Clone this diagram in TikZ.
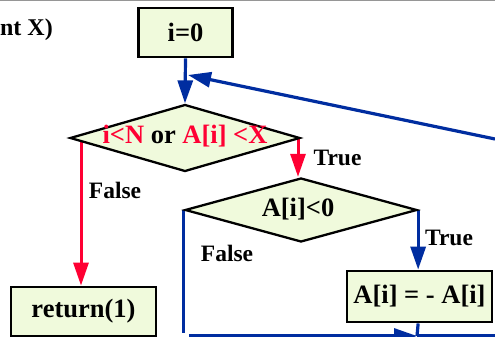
\documentclass[tikz,border=0pt]{standalone}
\usepackage{fontspec}
\setmainfont{Liberation Serif}
\usetikzlibrary{shapes.geometric,arrows.meta,backgrounds,calc}
\definecolor{boxfill}{RGB}{240,250,220}
\definecolor{fred}{RGB}{255,0,51}
\definecolor{fblue}{RGB}{0,45,160}
\definecolor{topgray}{RGB}{150,150,150}
\begin{document}
\begin{tikzpicture}[x=1pt,y=-1pt,
  box/.style={draw=black,line width=2.8pt,fill=boxfill,inner sep=0pt,font=\fontsize{26.5}{30}\selectfont\bfseries},
  dia/.style={diamond,draw=black,line width=2.3pt,fill=boxfill,inner sep=0pt},
  diatext/.style={font=\fontsize{26.5}{30}\selectfont\bfseries},
  lbl/.style={font=\fontsize{23.5}{28}\selectfont\bfseries,inner sep=0pt},
  redarrow/.style={draw=fred,line width=3pt,-{Triangle[width=15pt,length=23pt]}},
  bluearrow/.style={draw=fblue,line width=3.2pt,-{Triangle[width=15pt,length=23pt]}},
  blueline/.style={draw=fblue,line width=3.2pt}]
\clip (0,0) rectangle (495,337);

\node[box,minimum width=94pt,minimum height=49pt] (i0) at (185.5,32.5) {i=0};
\node[dia,minimum width=230pt,minimum height=67pt,
  label={[diatext,yshift=1.5pt]center:{{\color{fred}i<N} or {\color{fred}A[i] <X}}}] (d1) at (185,138) {};
\node[dia,minimum width=232pt,minimum height=64pt,
  label={[diatext,xshift=-3pt,yshift=1pt]center:{A[i]<0}}] (d2) at (301,210) {};
\node[box,minimum width=145pt,minimum height=49pt] (ret) at (83.5,311.5) {return(1)};
\node[box,minimum width=145pt,minimum height=51pt] (neg) at (419.5,296.5) {A[i] = - A[i]};

\node[lbl] (lf1) at (115,190) {False};
\node[lbl] (lt1) at (337.5,158) {True};
\node[lbl] (lf2) at (227,253) {False};
\node[lbl] (lt2) at (449,238) {True};
\node[lbl,anchor=base east,font=\fontsize{24}{28}\selectfont\bfseries] (title) at (53,36) {nt X)};

\coordinate (loopin) at (495,139);
\coordinate (join) at (188,75);
\coordinate (bl) at (185,333);
\coordinate (hs) at (189,336);
\coordinate (hm) at (417,336);
\coordinate (he) at (495,336);
\coordinate (rt) at ($(ret.north)+(-2.5,0)$);
\coordinate (dt) at ($(d2.north)+(-3,0)$);

\draw[topgray,line width=1.5pt] (0,0.75) -- (495,0.75);

\begin{pgfonlayer}{background}
\fill[white] (0,0) rectangle (495,337);
\draw[bluearrow] (i0.south) -- (d1.north);
\draw[bluearrow] (loopin) -- (join);
\draw[redarrow] (rt |- d1.center) -- (rt);
\draw[redarrow] (dt |- d1.center) -- (dt);
\draw[blueline] (d2.west) -- (d2.west |- bl);
\draw[bluearrow] (hs) -- (hm);
\draw[blueline] (hm) -- (he);
\draw[bluearrow] (d2.east) -- (d2.east |- neg.north);
\draw[blueline] (d2.east |- neg.south) -- (hm);
\end{pgfonlayer}
\end{tikzpicture}
\end{document}
